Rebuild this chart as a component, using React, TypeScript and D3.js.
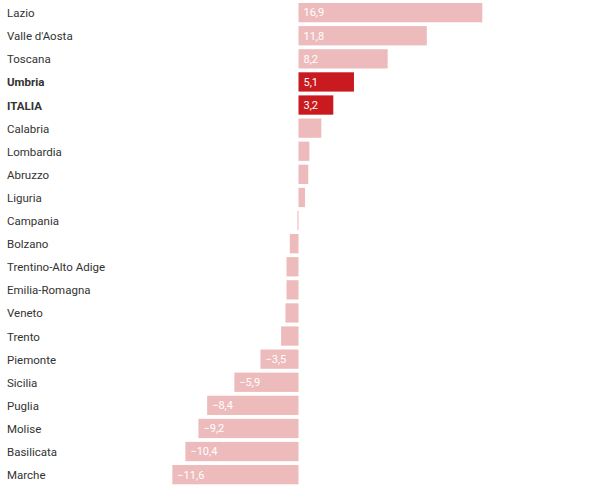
import React from 'react';
import * as d3 from 'd3';

// regioni e variazioni (%)
const regions = [
  'Lazio', "Valle d'Aosta", 'Toscana', 'Umbria', 'ITALIA', 'Calabria', 'Lombardia',
  'Abruzzo', 'Liguria', 'Campania', 'Bolzano', 'Trentino-Alto Adige', 'Emilia-Romagna',
  'Veneto', 'Trento', 'Piemonte', 'Sicilia', 'Puglia', 'Molise', 'Basilicata', 'Marche',
];
const values = [
  16.9, 11.8, 8.2, 5.1, 3.2, 2.1, 1.0, 0.9, 0.6, -0.1, -0.8, -1.1, -1.1,
  -1.2, -1.6, -3.5, -5.9, -8.4, -9.2, -10.4, -11.6,
];
const highlighted = ['Umbria', 'ITALIA'];

const width = 589;
const height = 485;

const fmt = (v: number) => {
  const s = Math.abs(v).toFixed(1).replace('.', ',');
  return v < 0 ? '\u2212' + s : s;
};

const App: React.FC = () => {
  const data = regions.map((name, i) => ({ name, value: values[i] }));

  // asse orizzontale (zero a ~298px)
  const x = d3.scaleLinear().domain([0, 16.9]).range([298.5, 482.3]);

  // asse verticale
  const y = d3.scaleBand<string>()
    .domain(regions)
    .range([3, 3 + 21 * 23.1 - 3.8])
    .paddingInner(0.165)
    .paddingOuter(0);

  return (
    <div style={{ position: 'absolute', left: 0, top: 0 }}>
      <svg width={width} height={height} style={{ display: 'block', fontFamily: 'Roboto, sans-serif' }}>
        {data.map((d) => {
          const yy = y(d.name)!;
          const x0 = Math.min(x(0), x(d.value));
          const w = Math.max(Math.abs(x(d.value) - x(0)), 1);
          const hl = highlighted.includes(d.name);
          return (
            <g key={d.name}>
              <text
                x={7}
                y={yy + y.bandwidth() / 2 + 0.5}
                dy="0.35em"
                fontSize={11.5}
                fill="#333"
                fontWeight={hl ? 'bold' : 'normal'}
              >
                {d.name}
              </text>
              <rect
                x={x0}
                y={yy}
                width={w}
                height={y.bandwidth()}
                fill={hl ? '#c81a1f' : '#eebbbc'}
              />
              {Math.abs(d.value) >= 3 && (
                <text
                  x={x0 + 5}
                  y={yy + y.bandwidth() / 2}
                  dy="0.35em"
                  fontSize={11}
                  fill="#fff"
                >
                  {fmt(d.value)}
                </text>
              )}
            </g>
          );
        })}
      </svg>
    </div>
  );
};

export default App;
